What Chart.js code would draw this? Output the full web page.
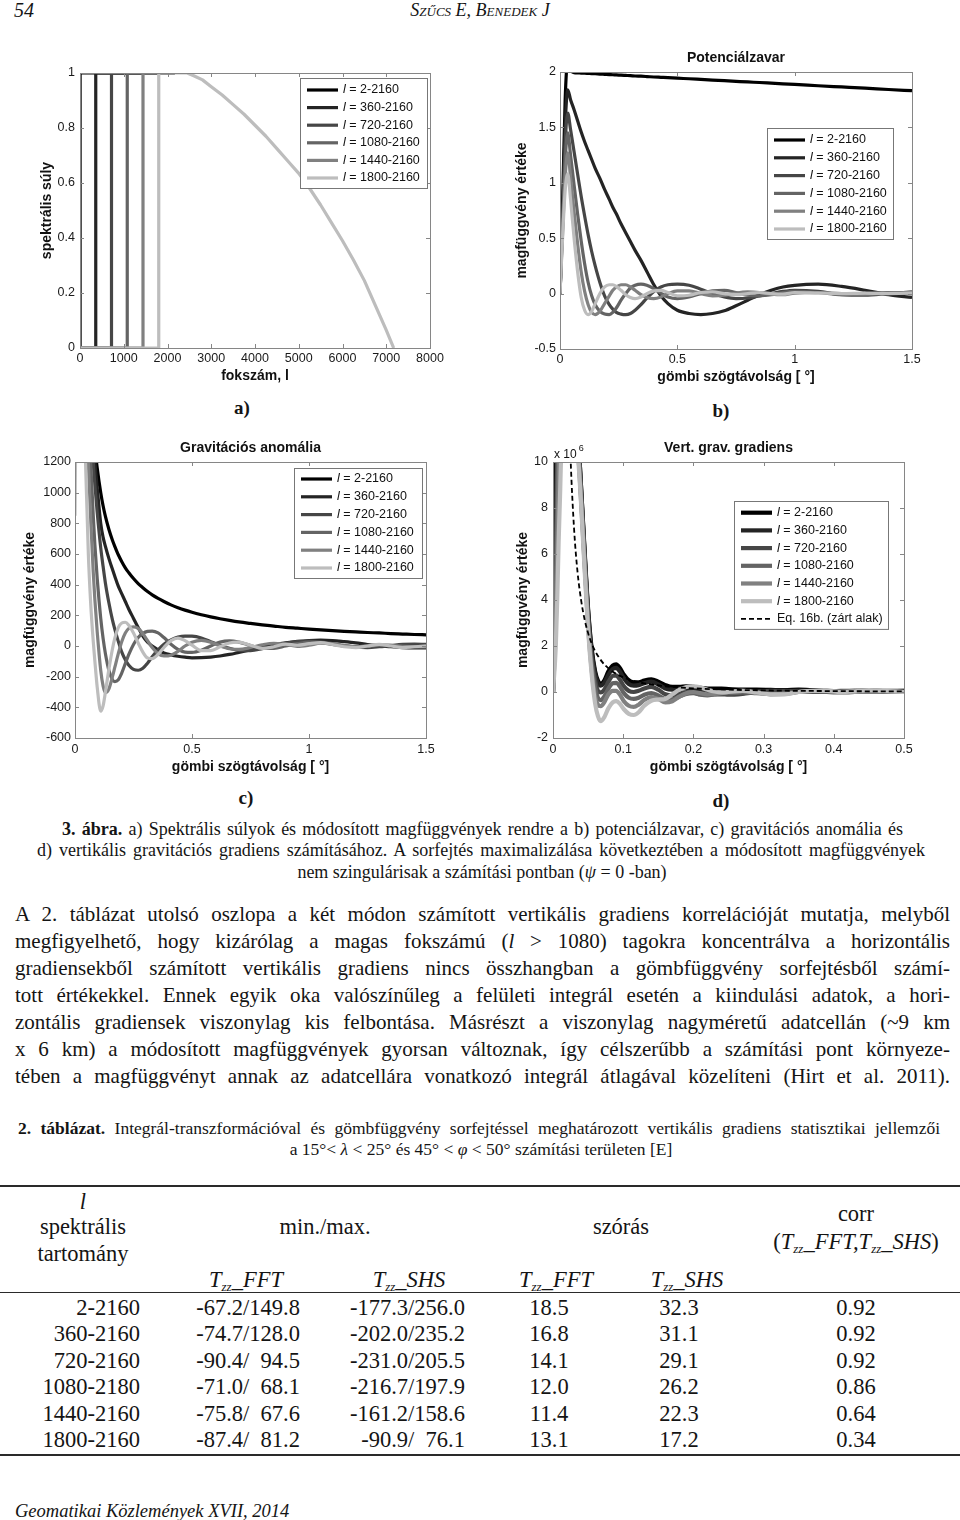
<!DOCTYPE html>
<html lang="hu">
<head>
<meta charset="utf-8">
<title>Magfüggvények</title>
<script src="https://cdn.jsdelivr.net/npm/chart.js@4.4.1/dist/chart.umd.min.js"></script>
<style>
  html, body { margin: 0; padding: 0; background: #fff; }
  #page { position: relative; width: 960px; height: 1520px; overflow: hidden; color: #141414;
          font-family: "Liberation Serif", "Times New Roman", serif; }
  #page > div, #page > canvas { position: absolute; }
  .lab { font-weight: bold; font-size: 19px; width: 40px; margin-left: -20px; text-align: center; line-height: 20px; }
  .cap { font-size: 18px; line-height: 20px; white-space: nowrap; }
  .body { font-size: 21px; line-height: 24px; white-space: nowrap; }
  .rule { left: 0; width: 960px; border-top: 2px solid #2a2a2a; height: 0; }
  .cell { font-size: 22.5px; line-height: 24px; white-space: pre; }
  .cell sub { font-size: 13px; vertical-align: -4px; line-height: 0; }
</style>
</head>
<body>
<div id="page">
  <div style="left:14px;top:0;font-style:italic;font-size:20px;line-height:20px">54</div>
  <div style="left:0;width:960px;top:0;text-align:center;font-style:italic;font-variant:small-caps;font-size:18px;line-height:20px">Szűcs E, Benedek J</div>

  <canvas id="chA" width="470" height="345" style="left:0;top:45px"></canvas>
  <canvas id="chB" width="480" height="345" style="left:480px;top:45px"></canvas>
  <canvas id="chC" width="470" height="345" style="left:0;top:435px"></canvas>
  <canvas id="chD" width="480" height="345" style="left:480px;top:435px"></canvas>

  <div class="lab" style="left:242px;top:398px">a)</div>
  <div class="lab" style="left:721px;top:401px">b)</div>
  <div class="lab" style="left:246px;top:788px">c)</div>
  <div class="lab" style="left:721px;top:791px">d)</div>

  <div class="cap fit" data-w="841" style="left:62px;top:819px"><b>3. ábra.</b> a) Spektrális súlyok és módosított magfüggvények rendre a b) potenciálzavar, c) gravitációs anomália és</div>
  <div class="cap fit" data-w="888" style="left:37px;top:840px">d) vertikális gravitációs gradiens számításához. A sorfejtés maximalizálása következtében a módosított magfüggvények</div>
  <div class="cap" style="left:0;width:964px;text-align:center;top:862px">nem szingulárisak a számítási pontban (<i>ψ</i> = 0 -ban)</div>

  <div class="body fit" data-w="935" style="left:15px;top:902px">A 2. táblázat utolsó oszlopa a két módon számított vertikális gradiens korrelációját mutatja, melyből</div>
  <div class="body fit" data-w="935" style="left:15px;top:929px">megfigyelhető, hogy kizárólag a magas fokszámú (<i>l</i> &gt; 1080) tagokra koncentrálva a horizontális</div>
  <div class="body fit" data-w="935" style="left:15px;top:956px">gradiensekből számított vertikális gradiens nincs összhangban a gömbfüggvény sorfejtésből számí-</div>
  <div class="body fit" data-w="935" style="left:15px;top:983px">tott értékekkel. Ennek egyik oka valószínűleg a felületi integrál esetén a kiindulási adatok, a hori-</div>
  <div class="body fit" data-w="935" style="left:15px;top:1010px">zontális gradiensek viszonylag kis felbontása. Másrészt a viszonylag nagyméretű adatcellán (~9 km</div>
  <div class="body fit" data-w="935" style="left:15px;top:1037px">x 6 km) a módosított magfüggvények gyorsan változnak, így célszerűbb a számítási pont környeze-</div>
  <div class="body fit" data-w="935" style="left:15px;top:1064px">tében a magfüggvényt annak az adatcellára vonatkozó integrál átlagával közelíteni (Hirt et al. 2011).</div>

  <div class="cap fit" data-w="922" style="left:18px;top:1118px;font-size:17.5px"><b>2. táblázat.</b> Integrál-transzformációval és gömbfüggvény sorfejtéssel meghatározott vertikális gradiens statisztikai jellemzői</div>
  <div class="cap" style="left:0;width:962px;text-align:center;top:1139px;font-size:17.5px">a 15°&lt; <i>λ</i> &lt; 25° és 45° &lt; <i>φ</i> &lt; 50° számítási területen [E]</div>

  <div class="rule" style="top:1185px"></div>
  <div class="cell" style="left:23px;width:120px;text-align:center;top:1190px"><i>l</i></div>
  <div class="cell" style="left:23px;width:120px;text-align:center;top:1215px">spektrális</div>
  <div class="cell" style="left:23px;width:120px;text-align:center;top:1242px">tartomány</div>
  <div class="cell" style="left:245px;width:160px;text-align:center;top:1215px">min./max.</div>
  <div class="cell" style="left:541px;width:160px;text-align:center;top:1215px">szórás</div>
  <div class="cell" style="left:776px;width:160px;text-align:center;top:1202px">corr</div>
  <div class="cell" style="left:756px;width:200px;text-align:center;top:1230px">(<i>T<sub>zz</sub>_FFT,T<sub>zz</sub>_SHS</i>)</div>
  <div class="cell" style="left:186px;width:120px;text-align:center;top:1268px"><i>T<sub>zz</sub>_FFT</i></div>
  <div class="cell" style="left:349px;width:120px;text-align:center;top:1268px"><i>T<sub>zz</sub>_SHS</i></div>
  <div class="cell" style="left:496px;width:120px;text-align:center;top:1268px"><i>T<sub>zz</sub>_FFT</i></div>
  <div class="cell" style="left:627px;width:120px;text-align:center;top:1268px"><i>T<sub>zz</sub>_SHS</i></div>
  <div class="rule" style="top:1292px;border-top-width:1.5px"></div>
  <div class="rule" style="top:1454px"></div>

  <div style="left:15px;top:1499px;font-style:italic;font-size:18.5px;line-height:24px">Geomatikai Közlemények XVII, 2014</div>
</div>

<script>
// ---- shared series ----
const bandLabels = ['2-2160', '360-2160', '720-2160', '1080-2160', '1440-2160', '1800-2160'];
const bandStart = [2, 360, 720, 1080, 1440, 1800];
const bandGrays = ['#000000', '#242424', '#464646', '#646464', '#808080', '#bdbdbd'];

// ---- a) spectral weights ----
const taperDegree = [2160, 2300, 2450, 2600, 2800, 3000, 3250, 3500, 3750, 4000, 4250, 4500, 4750, 5000, 5250, 5500, 5750, 6000, 6250, 6500, 6750, 7000, 7170];
const taperWeight = [1, 1, 1, 0.99, 0.975, 0.95, 0.92, 0.885, 0.85, 0.81, 0.77, 0.725, 0.68, 0.635, 0.58, 0.52, 0.455, 0.39, 0.32, 0.245, 0.155, 0.065, 0];
const degreeTicks = [0, 1000, 2000, 3000, 4000, 5000, 6000, 7000, 8000];
const degreeLabels = ['0', '1000', '2000', '3000', '4000', '5000', '6000', '7000', '8000'];
const weightTicks = [0, 0.2, 0.4, 0.6, 0.8, 1];
const weightLabels = ['0', '0.2', '0.4', '0.6', '0.8', '1'];

// ---- b) potential ----
const potPsi = [0, 0.012, 0.022, 0.033, 0.045, 0.06, 0.075, 0.09, 0.105, 0.12, 0.135, 0.15, 0.17, 0.19, 0.21, 0.225, 0.24, 0.26, 0.28, 0.3, 0.32, 0.345, 0.37, 0.4, 0.43, 0.46, 0.5, 0.55, 0.6, 0.65, 0.7, 0.75, 0.8, 0.85, 0.9, 0.95, 1.0, 1.1, 1.2, 1.3, 1.4, 1.5];
const potL2 = [0, 0.9, 1.75, 2.1, 2.02, 1.994, 1.992, 1.99, 1.989, 1.987, 1.985, 1.984, 1.981, 1.979, 1.977, 1.975, 1.974, 1.971, 1.969, 1.967, 1.964, 1.962, 1.959, 1.955, 1.952, 1.949, 1.944, 1.939, 1.933, 1.927, 1.922, 1.916, 1.91, 1.905, 1.899, 1.893, 1.888, 1.876, 1.865, 1.854, 1.842, 1.831];
const potL360 = [0, 0.75, 1.5, 1.84, 1.75, 1.66, 1.56, 1.46, 1.37, 1.29, 1.21, 1.13, 1.04, 0.94, 0.85, 0.78, 0.72, 0.63, 0.55, 0.47, 0.39, 0.3, 0.2, 0.08, -0.02, -0.09, -0.15, -0.18, -0.19, -0.18, -0.155, -0.11, -0.06, -0.01, 0.03, 0.06, 0.075, 0.085, 0.065, 0.03, -0.01, -0.035];
const potL720 = [0, 0.7, 1.35, 1.63, 1.48, 1.28, 1.08, 0.88, 0.7, 0.53, 0.38, 0.25, 0.1, -0.02, -0.1, -0.14, -0.17, -0.185, -0.19, -0.18, -0.15, -0.1, -0.04, 0.02, 0.06, 0.08, 0.085, 0.075, 0.04, 0, -0.03, -0.045, -0.04, -0.02, 0, 0.02, 0.03, 0.02, -0.01, -0.015, 0, 0.015];
const potL1080 = [0, 0.65, 1.2, 1.45, 1.25, 0.98, 0.72, 0.48, 0.27, 0.1, -0.02, -0.1, -0.16, -0.185, -0.19, -0.17, -0.13, -0.06, 0, 0.05, 0.075, 0.085, 0.075, 0.045, 0.005, -0.03, -0.045, -0.03, 0, 0.025, 0.03, 0.01, -0.015, -0.02, -0.01, 0.01, 0.02, 0.01, -0.01, 0, 0.01, 0];
const potL1440 = [0, 0.6, 1.05, 1.27, 1.05, 0.74, 0.45, 0.2, 0.02, -0.1, -0.17, -0.19, -0.16, -0.09, -0.02, 0.03, 0.06, 0.08, 0.08, 0.06, 0.03, -0.01, -0.035, -0.045, -0.03, 0, 0.025, 0.025, 0, -0.02, -0.015, 0.005, 0.015, 0.01, -0.005, -0.01, 0.005, 0.01, 0, -0.005, 0.005, 0.01];
const potL1800 = [0, 0.55, 0.93, 1.08, 0.85, 0.5, 0.2, -0.03, -0.15, -0.19, -0.16, -0.09, 0, 0.06, 0.08, 0.08, 0.065, 0.03, -0.01, -0.035, -0.045, -0.03, 0, 0.025, 0.03, 0.01, -0.02, -0.015, 0.01, 0.015, 0, -0.01, 0, 0.01, 0, -0.005, 0.01, 0.005, 0, 0.005, 0, 0.005];
const psiTicks = [0, 0.5, 1, 1.5];
const psiLabels = ['0', '0.5', '1', '1.5'];
const potTicks = [-0.5, 0, 0.5, 1, 1.5, 2];
const potLabels = ['-0.5', '0', '0.5', '1', '1.5', '2'];

// ---- c) gravity anomaly ----
const anomPsi = [0, 0.006, 0.03, 0.045, 0.057, 0.067, 0.078, 0.085, 0.095, 0.11, 0.12, 0.13, 0.145, 0.16, 0.17, 0.185, 0.2, 0.215, 0.23, 0.25, 0.27, 0.29, 0.31, 0.33, 0.355, 0.38, 0.41, 0.44, 0.47, 0.5, 0.54, 0.58, 0.62, 0.66, 0.7, 0.75, 0.8, 0.85, 0.9, 0.95, 1.0, 1.05, 1.1, 1.15, 1.2, 1.25, 1.3, 1.35, 1.4, 1.45, 1.5];
const anomL2 = [3000, 3000, 3000, 2400, 1900, 1600, 1400, 1290, 1160, 1000, 915, 845, 760, 690, 650, 595, 550, 510, 478, 440, 407, 380, 355, 333, 310, 290, 268, 250, 234, 220, 204, 190, 178, 167, 157, 147, 138, 130, 122, 116, 110, 105, 100, 96, 92, 88, 85, 81, 78, 75, 73];
const anomL360 = [3000, 3000, 3000, 2500, 2000, 1650, 1350, 1200, 1030, 800, 710, 650, 570, 500, 455, 390, 340, 290, 240, 180, 120, 65, 25, 0, -25, -45, -58, -67, -73, -77, -76, -72, -65, -55, -42, -25, -8, 7, 20, 30, 36, 38, 35, 28, 20, 10, 2, -5, -10, -12, -12];
const anomL720 = [3000, 3000, 3000, 2200, 1800, 1500, 1200, 1050, 870, 640, 520, 410, 280, 170, 110, 30, -40, -90, -125, -152, -158, -145, -112, -70, -25, 12, 40, 58, 65, 64, 52, 28, 5, -15, -28, -30, -18, 0, 18, 28, 32, 27, 15, 2, -7, -10, -5, 3, 10, 12, 10];
const anomL1080 = [3000, 3000, 2800, 2000, 1600, 1200, 850, 660, 440, 180, 50, -50, -160, -220, -232, -220, -175, -115, -55, 10, 55, 82, 95, 97, 85, 55, 12, -22, -40, -42, -28, 0, 25, 33, 25, 3, -15, -15, 0, 15, 25, 22, 10, 0, -5, -2, 5, 5, 0, -5, -8];
const anomL1440 = [3000, 3000, 2400, 1700, 1200, 830, 480, 300, 90, -160, -260, -305, -280, -200, -140, -50, 30, 85, 115, 125, 115, 80, 35, -10, -50, -65, -60, -35, 0, 25, 37, 25, 0, -18, -22, -10, 8, 18, 10, -2, 5, 18, 15, 3, -5, 0, 8, 5, -5, -5, 0];
const anomL1800 = [850, 1700, 1700, 1200, 600, 280, 30, -100, -270, -425, -390, -300, -150, -20, 50, 120, 150, 155, 135, 85, 20, -40, -78, -82, -55, -10, 35, 52, 35, 5, -30, -30, -5, 20, 25, 5, -15, -5, 12, 5, 15, 22, 10, -5, -10, 0, 10, 0, -10, -5, 0];
const anomTicks = [-600, -400, -200, 0, 200, 400, 600, 800, 1000, 1200];
const anomLabels = ['-600', '-400', '-200', '0', '200', '400', '600', '800', '1000', '1200'];

// ---- d) vertical gravity gradient (x 10^6) ----
const gradPsi = [0, 0.004, 0.006, 0.008, 0.01, 0.012, 0.03, 0.038, 0.044, 0.05, 0.055, 0.06, 0.064, 0.068, 0.073, 0.079, 0.085, 0.09, 0.095, 0.101, 0.108, 0.115, 0.122, 0.13, 0.14, 0.15, 0.16, 0.17, 0.18, 0.19, 0.2, 0.21, 0.22, 0.23, 0.24, 0.25, 0.27, 0.29, 0.31, 0.33, 0.35, 0.37, 0.39, 0.41, 0.43, 0.45, 0.47, 0.5];
const gradL2 = [0, 9, 14, 16, 17, 17, 14, 10, 6.7, 3.6, 1.9, 0.9, 0.5, 0.35, 0.5, 0.9, 1.15, 1.2, 1.05, 0.75, 0.5, 0.42, 0.42, 0.5, 0.55, 0.45, 0.3, 0.22, 0.22, 0.25, 0.22, 0.18, 0.15, 0.15, 0.15, 0.13, 0.1, 0.1, 0.09, 0.08, 0.1, 0.08, 0.05, 0.04, 0.04, 0.05, 0.04, 0.04];
const gradL360 = [0, 7, 12, 15, 16, 16, 14, 10, 6.6, 3.5, 1.8, 0.8, 0.4, 0.28, 0.4, 0.75, 1.0, 1.05, 0.9, 0.6, 0.35, 0.28, 0.3, 0.38, 0.45, 0.33, 0.15, 0.1, 0.15, 0.18, 0.12, 0.05, 0, 0, -0.05, -0.08, -0.05, 0.02, 0.05, 0.05, 0.06, 0.05, 0.03, 0.03, 0.05, 0.06, 0.05, 0.05];
const gradL720 = [0, 5.5, 10, 13, 15, 15, 13.5, 9.8, 6.5, 3.3, 1.5, 0.5, 0.05, -0.02, 0.1, 0.45, 0.7, 0.72, 0.55, 0.25, 0.05, 0, 0.05, 0.15, 0.22, 0.1, -0.1, -0.15, -0.08, 0, -0.02, -0.1, -0.12, -0.1, -0.1, -0.12, -0.08, 0, 0.05, 0.05, 0.02, 0, 0.02, 0.05, 0.05, 0.03, 0.03, 0.05];
const gradL1080 = [0, 4, 8, 12, 14, 14, 13, 9.6, 6.3, 3.1, 1.3, 0.2, -0.25, -0.35, -0.2, 0.15, 0.38, 0.4, 0.25, -0.05, -0.25, -0.3, -0.25, -0.12, -0.05, -0.15, -0.3, -0.32, -0.2, -0.08, -0.05, -0.12, -0.15, -0.1, -0.05, -0.05, -0.02, -0.05, -0.08, -0.05, 0, 0.03, 0, -0.02, 0, 0.03, 0.02, 0];
const gradL1440 = [0, 3, 6, 9, 12, 13, 12.5, 9.4, 6.1, 2.9, 1.0, -0.2, -0.55, -0.62, -0.45, -0.1, 0.05, 0.05, -0.1, -0.4, -0.6, -0.65, -0.55, -0.35, -0.22, -0.3, -0.45, -0.4, -0.2, -0.05, 0, -0.05, -0.1, -0.08, -0.05, 0, 0.05, -0.02, -0.1, -0.08, 0, 0.05, 0.05, 0.02, 0, 0.02, 0.03, 0];
const gradL1800 = [0, 2, 4, 6.5, 8.5, 10.5, 12, 9.2, 5.9, 2.7, 0.8, -0.5, -1.05, -1.27, -1.1, -0.7, -0.45, -0.4, -0.5, -0.75, -0.95, -1.0, -0.88, -0.6, -0.38, -0.33, -0.3, -0.1, 0.1, 0.22, 0.25, 0.2, 0.1, 0.02, -0.02, 0, 0.05, -0.02, -0.1, -0.1, 0, 0.05, 0.05, 0, 0.03, 0.08, 0.05, 0];
const closedPsi = [0, 0.0005, 0.018, 0.022, 0.025, 0.03, 0.035, 0.04, 0.045, 0.05, 0.055, 0.06, 0.07, 0.08, 0.09, 0.1, 0.12, 0.14, 0.16, 0.18, 0.2, 0.25, 0.3, 0.35, 0.4, 0.45, 0.5];
const closedVal = [0, 20, 20, 13.2, 10.2, 7.1, 5.2, 4.0, 3.16, 2.56, 2.12, 1.78, 1.31, 1.0, 0.79, 0.64, 0.44, 0.33, 0.25, 0.2, 0.16, 0.1, 0.07, 0.05, 0.04, 0.03, 0.026];
const gradXTicks = [0, 0.1, 0.2, 0.3, 0.4, 0.5];
const gradXLabels = ['0', '0.1', '0.2', '0.3', '0.4', '0.5'];
const gradYTicks = [-2, 0, 2, 4, 6, 8, 10];
const gradYLabels = ['-2', '0', '2', '4', '6', '8', '10'];

// ---- table ----
const rangeCol = ['2-2160', '360-2160', '720-2160', '1080-2180', '1440-2160', '1800-2160'];
const fftMinMax = ['-67.2/149.8', '-74.7/128.0', '-90.4/\u200794.5', '-71.0/\u200768.1', '-75.8/\u200767.6', '-87.4/\u200781.2'];
const shsMinMax = ['-177.3/256.0', '-202.0/235.2', '-231.0/205.5', '-216.7/197.9', '-161.2/158.6', '-90.9/\u200776.1'];
const fftStd = ['18.5', '16.8', '14.1', '12.0', '11.4', '13.1'];
const shsStd = ['32.3', '31.1', '29.1', '26.2', '22.3', '17.2'];
const corrCol = ['0.92', '0.92', '0.92', '0.86', '0.64', '0.34'];

const SANS = '"Liberation Sans", Arial, sans-serif';
Chart.defaults.font.family = SANS;
Chart.defaults.color = '#1a1a1a';

const pts = (xs, ys) => xs.map((x, i) => ({ x: x, y: ys[i] }));

// box, inward ticks, title and legend the way matlab draws them
const matlabFrame = {
  id: 'matlabFrame',
  afterDatasetsDraw(chart, args, opts) {
    const { ctx, chartArea: a } = chart;
    const sx = chart.scales.x, sy = chart.scales.y;
    ctx.save();
    ctx.strokeStyle = '#868686';
    ctx.lineWidth = 1;
    ctx.strokeRect(a.left + 0.5, a.top + 0.5, a.right - a.left, a.bottom - a.top);
    ctx.beginPath();
    sx.ticks.forEach(t => {
      const p = Math.round(sx.getPixelForValue(t.value)) + 0.5;
      ctx.moveTo(p, a.bottom); ctx.lineTo(p, a.bottom - 4);
      ctx.moveTo(p, a.top); ctx.lineTo(p, a.top + 4);
    });
    sy.ticks.forEach(t => {
      const p = Math.round(sy.getPixelForValue(t.value)) + 0.5;
      ctx.moveTo(a.left, p); ctx.lineTo(a.left + 4, p);
      ctx.moveTo(a.right, p); ctx.lineTo(a.right - 4, p);
    });
    ctx.stroke();

    ctx.fillStyle = '#111';
    ctx.textBaseline = 'middle';
    if (opts.title) {
      ctx.font = 'bold 14px ' + SANS;
      ctx.textAlign = 'center';
      ctx.fillText(opts.title, (a.left + a.right) / 2, a.top - 14);
    }
    if (opts.exponent) {
      ctx.font = '12px ' + SANS;
      ctx.textAlign = 'left';
      ctx.fillText('x 10', a.left + 1, a.top - 7);
      const w = ctx.measureText('x 10').width;
      ctx.font = '9px ' + SANS;
      ctx.fillText(opts.exponent, a.left + 3 + w, a.top - 13);
    }

    const L = opts.legend;
    if (L) {
      const sets = chart.data.datasets;
      const h = L.first + (sets.length - 1) * L.row + 10;
      const bx = a.right - L.right - L.width, by = a.top + L.top;
      ctx.fillStyle = '#fff';
      ctx.fillRect(bx, by, L.width, h);
      ctx.strokeStyle = '#777';
      ctx.lineWidth = 1;
      ctx.strokeRect(Math.round(bx) + 0.5, Math.round(by) + 0.5, L.width, h);
      sets.forEach((ds, i) => {
        const y = by + L.first + i * L.row;
        ctx.beginPath();
        ctx.setLineDash(ds.borderDash || []);
        ctx.strokeStyle = ds.borderColor;
        ctx.lineWidth = ds.borderWidth;
        ctx.moveTo(bx + 7, y); ctx.lineTo(bx + 38, y);
        ctx.stroke();
        ctx.setLineDash([]);
        ctx.fillStyle = '#111';
        ctx.textAlign = 'left';
        let x = bx + 43;
        let text = ds.label;
        if (text.startsWith('l =')) {
          ctx.font = 'italic 12.5px ' + SANS;
          ctx.fillText('l', x, y);
          x += ctx.measureText('l').width;
          text = text.slice(1);
        }
        ctx.font = '12.5px ' + SANS;
        ctx.fillText(text, x, y);
      });
    }
    ctx.restore();
  }
};

function axis(a, dir) {
  return {
    type: 'linear',
    min: a.ticks[0],
    max: a.ticks[a.ticks.length - 1],
    grid: { display: false, drawTicks: false },
    border: { display: false },
    afterBuildTicks: s => { s.ticks = a.ticks.map(v => ({ value: v })); },
    ticks: {
      padding: a.tickPad, autoSkip: false, maxRotation: 0,
      font: { size: 12.5 }, color: '#1a1a1a',
      callback: (v, i) => a.labels[i]
    },
    title: {
      display: true, text: a.title, color: '#111',
      font: { size: 14, weight: 'bold' },
      padding: dir === 'y' ? { top: a.titlePad } : { top: 0, bottom: a.titlePad }
    },
    afterFit: s => { if (dir === 'y') s.width = a.size; else s.height = a.size; }
  };
}

function makeChart(id, cfg) {
  return new Chart(document.getElementById(id), {
    type: 'line',
    data: { datasets: cfg.datasets },
    options: {
      responsive: false,
      animation: false,
      events: [],
      layout: { padding: { left: 0, top: cfg.top, right: cfg.right, bottom: 0 } },
      elements: { point: { radius: 0 }, line: { tension: 0, borderJoinStyle: 'round', fill: false } },
      plugins: {
        legend: { display: false },
        tooltip: { enabled: false },
        matlabFrame: { title: cfg.title, exponent: cfg.exponent, legend: cfg.legend }
      },
      scales: { x: axis(cfg.x, 'x'), y: axis(cfg.y, 'y') }
    },
    plugins: [matlabFrame]
  });
}

function bandSets(xs, series, width) {
  return series.map((ys, k) => ({
    label: 'l = ' + bandLabels[k],
    data: pts(xs, ys),
    borderColor: bandGrays[k],
    borderWidth: width,
    cubicInterpolationMode: 'monotone',
    order: 6 - k
  }));
}

// a) every band shares the same taper; it lies under the lightest band, so only that one draws it
const lastBand = bandStart.length - 1;
makeChart('chA', {
  top: 28, right: 40,
  datasets: bandStart.map((l0, k) => {
    const n = k === lastBand ? taperDegree.length : 1;
    return {
      label: 'l = ' + bandLabels[k],
      data: [{ x: 0, y: 0 }, { x: l0, y: 0 }, { x: l0, y: 1 }]
        .concat(pts(taperDegree.slice(0, n), taperWeight.slice(0, n))),
      borderColor: bandGrays[k],
      borderWidth: 3.2,
      order: 6 - k
    };
  }),
  x: { ticks: degreeTicks, labels: degreeLabels, title: 'fokszám, l', size: 42, tickPad: 3.5, titlePad: 5.6 },
  y: { ticks: weightTicks, labels: weightLabels, title: 'spektrális súly', size: 80, tickPad: 5, titlePad: 39 },
  legend: { right: 3, top: 5, width: 127, row: 17.6, first: 12 }
});

// b)
makeChart('chB', {
  top: 27, right: 48, title: 'Potenciálzavar',
  datasets: bandSets(potPsi, [potL2, potL360, potL720, potL1080, potL1440, potL1800], 3.2),
  x: { ticks: psiTicks, labels: psiLabels, title: 'gömbi szögtávolság [ °]', size: 41, tickPad: 3.5, titlePad: 4.6 },
  y: { ticks: potTicks, labels: potLabels, title: 'magfüggvény értéke', size: 80, tickPad: 4, titlePad: 33.6 },
  legend: { right: 19, top: 56, width: 126, row: 17.8, first: 12 }
});

// c)
makeChart('chC', {
  top: 27, right: 44, title: 'Gravitációs anomália',
  datasets: bandSets(anomPsi, [anomL2, anomL360, anomL720, anomL1080, anomL1440, anomL1800], 3.2),
  x: { ticks: psiTicks, labels: psiLabels, title: 'gömbi szögtávolság [ °]', size: 42, tickPad: 4.5, titlePad: 4.6 },
  y: { ticks: anomTicks, labels: anomLabels, title: 'magfüggvény értéke', size: 75, tickPad: 4, titlePad: 21.6 },
  legend: { right: 4, top: 6, width: 128, row: 17.8, first: 11 }
});

// d)
const dSets = bandSets(gradPsi, [gradL2, gradL360, gradL720, gradL1080, gradL1440, gradL1800], 4.2);
dSets.push({
  label: 'Eq. 16b. (zárt alak)',
  data: pts(closedPsi, closedVal),
  borderColor: '#000',
  borderWidth: 1.8,
  borderDash: [5, 3],
  cubicInterpolationMode: 'monotone',
  order: -1
});
makeChart('chD', {
  top: 27, right: 56, title: 'Vert. grav. gradiens', exponent: '6',
  datasets: dSets,
  x: { ticks: gradXTicks, labels: gradXLabels, title: 'gömbi szögtávolság [ °]', size: 42, tickPad: 4.5, titlePad: 4.6 },
  y: { ticks: gradYTicks, labels: gradYLabels, title: 'magfüggvény értéke', size: 73, tickPad: 5, titlePad: 34.6 },
  legend: { right: 16, top: 39, width: 154, row: 17.7, first: 11.7 }
});

// table body
const tableCols = [
  { vals: rangeCol, x: 140, align: 'right' },
  { vals: fftMinMax, x: 300, align: 'right' },
  { vals: shsMinMax, x: 465, align: 'right' },
  { vals: fftStd, x: 549, align: 'center' },
  { vals: shsStd, x: 679, align: 'center' },
  { vals: corrCol, x: 856, align: 'center' }
];
const page = document.getElementById('page');
tableCols.forEach(col => {
  col.vals.forEach((v, i) => {
    const d = document.createElement('div');
    d.className = 'cell';
    d.textContent = v;
    d.style.top = (1296 + i * 26.4) + 'px';
    if (col.align === 'right') {
      d.style.right = (960 - col.x) + 'px';
    } else {
      d.style.left = (col.x - 60) + 'px';
      d.style.width = '120px';
      d.style.textAlign = 'center';
    }
    page.appendChild(d);
  });
});

// stretch full lines to their measured width (justified text)
document.querySelectorAll('.fit').forEach(el => {
  const target = +el.dataset.w;
  const gaps = (el.textContent.match(/ /g) || []).length;
  const w = el.getBoundingClientRect().width;
  if (gaps) el.style.wordSpacing = ((target - w) / gaps).toFixed(2) + 'px';
});
</script>
</body>
</html>
